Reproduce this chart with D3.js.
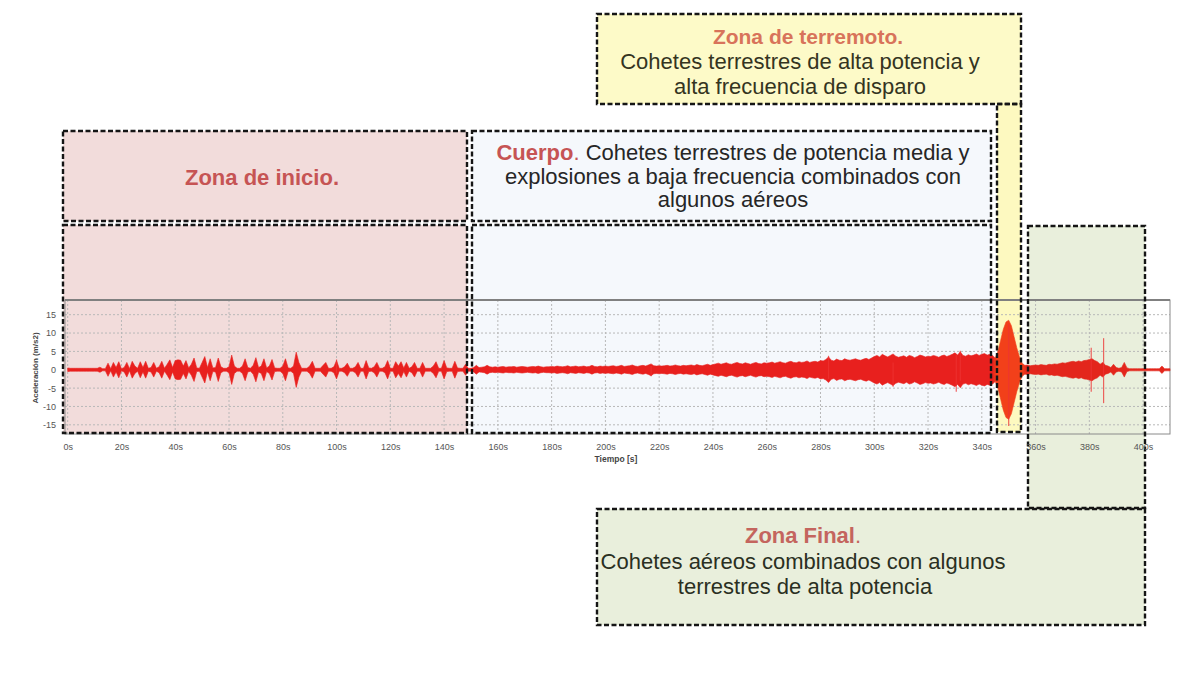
<!DOCTYPE html>
<html><head><meta charset="utf-8">
<script src="https://cdn.jsdelivr.net/npm/d3@7"></script>
<style>
body{margin:0;background:#fff;}
svg{display:block;font-family:"Liberation Sans",Arial,sans-serif;}
</style>
</head><body>
<svg id="c" width="1200" height="675"></svg>
<script>
// ---------- DATA ----------
const xTickValues = [0,20,40,60,80,100,120,140,160,180,200,220,240,260,280,300,320,340,360,380,400];
const xTickLabels = ["0s","20s","40s","60s","80s","100s","120s","140s","160s","180s","200s","220s","240s","260s","280s","300s","320s","340s","360s","380s","400s"];
const yTickValues = [15,10,5,0,-5,-10,-15];
const yTickLabels = ["15","10","5","0","-5","-10","-15"];
// envelope amplitude of acceleration (m/s2), one value per second, t = 0..410 s
const amplitude = [
 0.5,0.4,0.4,0.4,0.4,0.4,0.4,0.4,0.4,0.4,
 0.4,0.4,0.7,0.3,0.3,1.8,0.3,2.0,0.6,2.2,
 0.3,0.6,2.0,0.3,2.3,1.0,0.4,2.2,0.6,2.3,
 0.4,0.6,2.0,0.4,0.8,2.3,0.4,1.5,2.7,0.6,
 2.5,2.7,2.6,1.0,2.5,0.5,1.5,3.2,0.5,0.4,
 2.0,3.6,0.6,3.0,0.5,0.6,3.2,0.8,0.4,0.4,
 0.8,4.0,1.0,0.4,0.4,1.0,3.0,0.6,0.4,1.2,
 3.3,0.6,1.0,3.0,0.5,1.0,2.8,0.5,0.4,0.4,
 1.0,3.0,0.5,0.4,1.0,4.8,2.0,0.4,0.4,0.4,
 1.0,2.3,0.4,0.4,0.4,1.2,2.0,0.4,0.4,0.8,
 2.5,0.4,0.4,0.8,1.8,0.4,0.4,0.8,2.0,0.4,
 0.4,2.5,0.5,0.4,0.8,2.0,0.4,0.4,0.8,2.5,
 0.4,0.4,2.2,1.0,2.2,0.5,2.0,0.4,0.8,2.0,
 0.4,0.4,2.0,0.4,0.4,0.4,1.0,2.2,0.4,0.4,
 2.5,0.5,0.4,0.4,2.3,0.5,0.4,0.4,1.5,0.4,
 0.4,0.6,1.2,0.6,0.7,0.8,1.2,0.8,0.7,0.8,
 0.7,0.8,0.9,0.7,0.8,0.8,0.9,0.7,0.8,0.9,
 0.8,0.7,0.8,0.9,0.8,1.0,0.8,0.7,0.8,0.8,
 0.9,0.8,1.0,0.9,0.8,0.9,1.1,0.8,0.9,1.0,
 0.8,0.9,1.0,0.8,0.9,1.2,0.9,0.8,1.0,0.9,
 1.0,0.9,1.0,1.1,0.9,1.0,1.2,0.9,1.0,1.1,
 1.3,1.0,0.9,1.1,1.2,1.0,1.3,1.6,1.1,1.0,
 1.1,1.0,1.1,1.2,1.0,1.1,1.3,1.1,1.0,1.2,
 1.1,1.2,1.3,1.1,1.4,1.2,1.1,1.3,1.5,1.2,
 1.4,1.6,1.8,1.5,1.7,1.9,1.6,1.5,1.8,2.0,
 1.7,1.6,1.9,1.7,1.5,1.8,2.0,1.7,1.6,1.9,
 1.8,1.9,2.1,1.8,2.0,2.2,1.9,1.8,2.1,2.3,
 2.0,1.9,2.2,2.0,2.1,2.4,2.0,2.2,2.3,2.1,
 2.5,2.4,2.8,3.5,2.6,2.4,2.9,2.6,2.5,3.0,
 2.7,2.6,2.8,3.0,2.7,2.6,2.9,3.1,2.8,3.2,
 3.6,3.9,3.5,4.2,3.8,3.5,3.9,4.3,3.7,3.4,
 3.6,3.8,3.4,3.9,3.7,3.3,3.6,4.0,3.8,3.5,
 3.7,3.6,3.9,3.7,3.4,3.8,4.0,3.6,3.9,4.2,
 4.6,4.0,4.9,3.9,3.7,4.1,3.8,4.0,4.3,3.9,
 4.2,4.4,4.0,4.2,3.9,3.2,5.0,8.0,11.0,13.0,
 13.5,12.0,9.0,6.0,3.5,1.8,1.2,1.3,1.1,1.2,
 1.3,1.2,1.4,1.3,1.2,1.5,1.4,1.6,1.5,1.7,
 1.9,1.8,2.0,2.2,2.3,2.1,2.4,2.2,2.5,2.6,
 2.8,3.0,2.5,2.2,1.5,2.0,1.2,1.0,0.6,1.5,
 0.6,0.4,0.6,2.0,0.5,0.3,0.3,0.3,0.3,0.3,
 0.3,0.3,0.3,0.3,0.3,0.3,0.3,1.0,0.3,0.3,0.3
];
// isolated peaks (thin spikes)
const spikeTimes = [100, 217, 283, 307, 330.5, 332, 350, 380.7, 385.3];
const spikeUp    = [2.8, 1.0, 3.8, 2.0, 4.0, 5.2, 12.5, 6.0, 8.6];
const spikeDown  = [-1.0,-1.8,-2.5,-4.6,-6.0,-3.0,-15.3,-6.0,-9.1];

const yAxisTitle = "Aceleración (m/s2)";
const xAxisTitle = "Tiempo [s]";

// ---------- LAYOUT ----------
const svg = d3.select("#c");
const P = {l:65, r:1170, t:300, b:434};
const x = d3.scaleLinear().domain([-1, 410]).range([P.l, P.r]);
const y = d3.scaleLinear().domain([-17.5, 19]).range([P.b, P.t]);

const defs = svg.append("defs");
const grad = defs.append("linearGradient").attr("id","wave").attr("gradientUnits","userSpaceOnUse")
  .attr("x1", x(0)).attr("x2", x(410)).attr("y1",0).attr("y2",0);
[[0,"#e8201e"],[344,"#e8201e"],[345.5,"#f2401a"],[355,"#f2401a"],[356.5,"#e3261c"],[410,"#e3261c"]]
  .forEach(([t,c])=>grad.append("stop").attr("offset",(x(t)-x(0))/(x(410)-x(0))).attr("stop-color",c));

// plot background
svg.append("rect").attr("x",P.l).attr("y",P.t).attr("width",P.r-P.l).attr("height",P.b-P.t).attr("fill","#fff");

// zone boxes (annotation layout)
const boxes = [
  {x:63, y:131, w:404, h:90, fill:"#f2dcdb"},
  {x:63, y:225, w:404, h:208, fill:"#f2dcdb"},
  {x:472, y:131, w:519, h:90, fill:"#f5f8fc"},
  {x:472, y:225, w:519, h:208, fill:"#f5f8fc"},
  {x:597, y:14, w:424, h:90, fill:"#fdfac8"},
  {x:997, y:104, w:24, h:328, fill:"#fdf9c0"},
  {x:1028, y:226, w:117, h:282, fill:"#e9efdc"},
  {x:597, y:509, w:548, h:116, fill:"#e9efdc"}
];
svg.append("g").selectAll("rect").data(boxes).join("rect")
  .attr("x",d=>d.x).attr("y",d=>d.y).attr("width",d=>d.w).attr("height",d=>d.h).attr("fill",d=>d.fill);

// grid
const grid = svg.append("g").attr("stroke","#b8b8b8").attr("stroke-width",1).attr("stroke-dasharray","2,2");
grid.selectAll("line.v").data(xTickValues).join("line")
  .attr("x1",d=>x(d)).attr("x2",d=>x(d)).attr("y1",P.t).attr("y2",P.b);
grid.selectAll("line.h").data(yTickValues.filter(v=>v!==0)).join("line").attr("class","h")
  .attr("x1",P.l).attr("x2",P.r).attr("y1",d=>y(d)).attr("y2",d=>y(d));

// frame
svg.append("rect").attr("x",P.l).attr("y",P.t).attr("width",P.r-P.l).attr("height",P.b-P.t)
  .attr("fill","none").attr("stroke","#8a8a8a").attr("stroke-width",1);
svg.append("line").attr("x1",P.l).attr("x2",P.r).attr("y1",P.t).attr("y2",P.t).attr("stroke","#808080").attr("stroke-width",2);

// waveform
const series = amplitude.map((a,i)=>({t:i,a:a}));
const area = d3.area().x(d=>x(d.t)).y0(d=>y(-d.a)).y1(d=>y(d.a));
svg.append("path").datum(series).attr("d",area).attr("fill","url(#wave)").attr("stroke","url(#wave)").attr("stroke-width",0.6);
svg.append("g").selectAll("line").data(spikeTimes).join("line")
  .attr("x1",d=>x(d)).attr("x2",d=>x(d))
  .attr("y1",(d,i)=>y(spikeUp[i])).attr("y2",(d,i)=>y(spikeDown[i]))
  .attr("stroke","#ee3333").attr("stroke-width",1.2).attr("opacity",0.75);

// dashed borders
svg.append("g").selectAll("rect").data(boxes).join("rect")
  .attr("x",d=>d.x).attr("y",d=>d.y).attr("width",d=>d.w).attr("height",d=>d.h)
  .attr("fill","none").attr("stroke","#151515").attr("stroke-width",2.4).attr("stroke-dasharray","5,2.5");

// axes
const yAxis = d3.axisLeft(y).tickValues(yTickValues).tickFormat((d,i)=>yTickLabels[i]).tickSize(0).tickPadding(9);
const gy = svg.append("g").attr("transform",`translate(${P.l},0)`).call(yAxis);
gy.select(".domain").remove();
gy.selectAll("text").attr("font-size",9).attr("fill","#555").attr("font-family","Liberation Sans, Arial");
const xAxis = d3.axisBottom(x).tickValues(xTickValues).tickFormat((d,i)=>xTickLabels[i]).tickSize(0).tickPadding(10);
const gx = svg.append("g").attr("transform",`translate(0,${P.b})`).call(xAxis);
gx.select(".domain").remove();
gx.selectAll("text").attr("font-size",9).attr("fill","#555").attr("font-family","Liberation Sans, Arial");

svg.append("text").attr("transform","translate(38,368) rotate(-90)").attr("text-anchor","middle")
  .attr("font-size",8).attr("font-weight","bold").attr("fill","#444").text(yAxisTitle);
svg.append("text").attr("x",616).attr("y",462).attr("text-anchor","middle")
  .attr("font-size",8.5).attr("font-weight","bold").attr("fill","#444").text(xAxisTitle);

// annotation texts
const FS = 22;
function line(xc, yb, parts, fs){
  const t = svg.append("text").attr("x",xc).attr("y",yb).attr("text-anchor","middle").attr("font-size",fs||FS);
  parts.forEach(p=>t.append("tspan").attr("font-weight",p.b?"bold":"normal").attr("fill",p.c||"#262626").text(p.s));
}
line(262, 185, [{s:"Zona de inicio.", b:true, c:"#c65454"}]);
line(733, 160, [{s:"Cuerpo", b:true, c:"#c65454"},{s:".", c:"#c65454"},{s:" Cohetes terrestres de potencia media y"}]);
line(733, 184, [{s:"explosiones a baja frecuencia combinados con"}]);
line(733, 207, [{s:"algunos aéreos"}]);
line(808, 44, [{s:"Zona de terremoto.", b:true, c:"#d8735a"}], 21);
line(800, 69, [{s:"Cohetes terrestres de alta potencia y", c:"#34341f"}]);
line(800, 94, [{s:"alta frecuencia de disparo", c:"#34341f"}]);
line(803, 543, [{s:"Zona Final", b:true, c:"#c4655e"},{s:".", c:"#c4655e"}]);
line(803, 569, [{s:"Cohetes aéreos combinados con algunos", c:"#2a2f22"}]);
line(805, 594, [{s:"terrestres de alta potencia", c:"#2a2f22"}]);
</script>
</body></html>
